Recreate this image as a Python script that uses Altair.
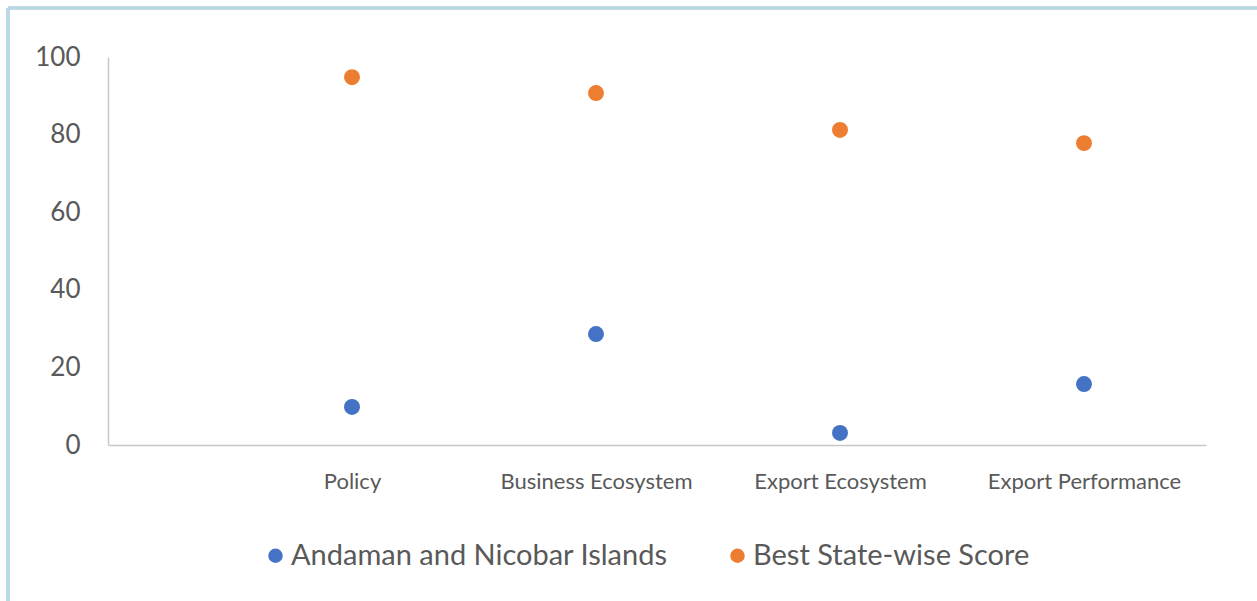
import json
import altair as alt
import pandas as pd

categories = ["Policy", "Business Ecosystem", "Export Ecosystem", "Export Performance"]
series_names = ["Andaman and Nicobar Islands", "Best State-wise Score"]
andaman = [9.8, 28.6, 3.1, 15.7]
best = [94.8, 90.7, 81.2, 77.8]
y_ticks = [0, 20, 40, 60, 80, 100]
colors = ["#4472C4", "#ED7D31"]

rows = []
for i, c in enumerate(categories):
    rows.append({"pos": i + 1, "category": c, "series": series_names[0], "value": andaman[i]})
    rows.append({"pos": i + 1, "category": c, "series": series_names[1], "value": best[i]})
df = pd.DataFrame(rows)

label_arr = json.dumps([""] + categories + [""])
FONT = "Lato"

points = alt.Chart(df).mark_circle(size=255, opacity=1).encode(
    x=alt.X("pos:Q", scale=alt.Scale(domain=[0, 4.5], nice=False, zero=False),
            axis=alt.Axis(values=[1, 2, 3, 4], title=None, grid=False, ticks=False,
                          labelExpr=f"{label_arr}[datum.value]", labelLimit=400,
                          labelFont=FONT, labelFontSize=22, labelColor="#595959",
                          labelPadding=26, domainColor="#C8C8C8", domainWidth=1.5)),
    y=alt.Y("value:Q", scale=alt.Scale(domain=[0, 100], nice=False),
            axis=alt.Axis(values=y_ticks, title=None, grid=False, ticks=False,
                          labelFont=FONT, labelFontSize=26, labelColor="#595959",
                          labelPadding=28, domainColor="#C8C8C8", domainWidth=1.5)),
    color=alt.Color("series:N", scale=alt.Scale(domain=series_names, range=colors),
                    legend=alt.Legend(title=None, orient="none", direction="horizontal",
                                      legendX=153, legendY=484, symbolType="circle",
                                      symbolSize=210, labelFont=FONT, labelFontSize=29,
                                      labelColor="#595959", labelLimit=600,
                                      columnPadding=55, labelOffset=1, symbolOpacity=1)),
)

border_top = alt.Chart(df).mark_rule(color="#B7D8E2", strokeWidth=2.5).encode(
    x=alt.value(-100), x2=alt.value(1160), y=alt.value(-49))
border_left = alt.Chart(df).mark_rule(color="#B7D8E2", strokeWidth=2.5).encode(
    x=alt.value(-100), y=alt.value(-49), y2=alt.value(560))

chart = alt.layer(border_top, border_left, points).properties(
    width=1098, height=388,
    background="white",
    autosize=alt.AutoSizeParams(type="none"),
    padding={"left": 108, "top": 57, "right": 51, "bottom": 156},
).configure_view(stroke=None, strokeWidth=0)

chart.save("out.html", embed_options={"renderer": "svg", "actions": False})
